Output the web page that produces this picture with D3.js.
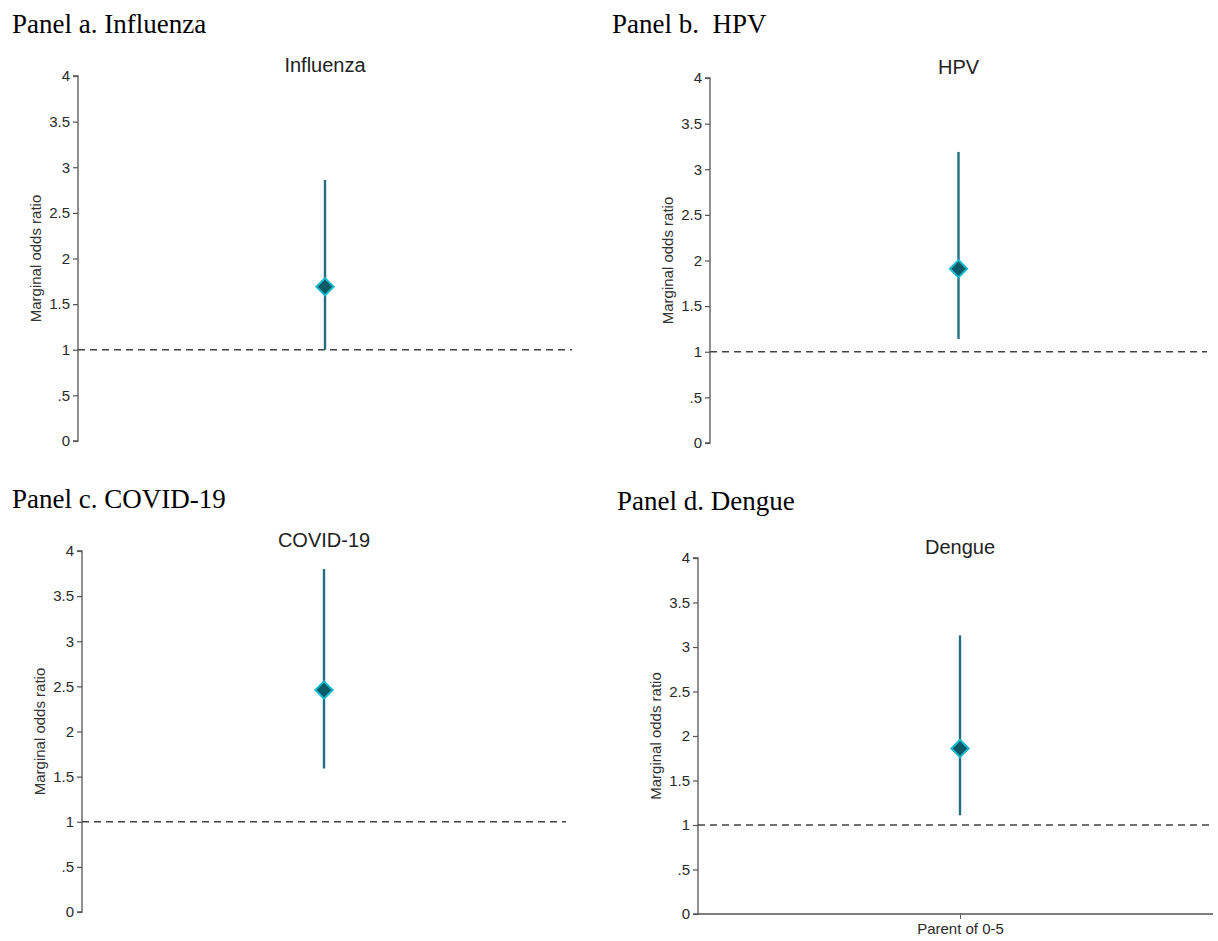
<!DOCTYPE html>
<html><head><meta charset="utf-8">
<script src="https://cdn.jsdelivr.net/npm/d3@7"></script>
<style>body{margin:0;background:#fff}svg{display:block}</style>
</head><body>
<svg id="chart" width="1218" height="941"></svg>
<script>
// ---- data ----
const panelLabels = ["Panel a. Influenza", "Panel b.  HPV", "Panel c. COVID-19", "Panel d. Dengue"];
const titles = ["Influenza", "HPV", "COVID-19", "Dengue"];
const category = ["Parent of 0-5"];
const estimates = [1.69, 1.91, 2.46, 1.86];
const lowerCI = [1.0, 1.14, 1.59, 1.11];
const upperCI = [2.86, 3.19, 3.80, 3.13];
const yTicks = [0, 0.5, 1, 1.5, 2, 2.5, 3, 3.5, 4];
const tickLabels = ["0", ".5", "1", "1.5", "2", "2.5", "3", "3.5", "4"];
const refValue = 1;

// ---- layout (per panel) ----
const layout = [
  {lx:12, ly:33, ax:78,  x1:572,  xr:572,  top:76,  bot:441, showX:false},
  {lx:612,ly:33, ax:710, x1:1207, xr:1207, top:78,  bot:443, showX:false},
  {lx:12, ly:508,ax:82,  x1:566,  xr:566,  top:551, bot:912, showX:false},
  {lx:617,ly:510,ax:698, x1:1213, xr:1222, top:558, bot:914, showX:true}
];

const svg = d3.select("#chart");
const teal = "#1f6f80", diamondFill = "#0b5a68", diamondStroke = "#19b9cc", axisCol = "#555";
const sans = "Liberation Sans, Arial, sans-serif";

layout.forEach((L, i) => {
  const g = svg.append("g");
  g.append("text").attr("x", L.lx).attr("y", L.ly)
    .attr("font-family", "Liberation Serif, Times New Roman, serif").attr("font-size", 27)
    .style("white-space", "pre").attr("xml:space", "preserve")
    .attr("fill", "#000").text(panelLabels[i]);

  const y = d3.scaleLinear().domain([0, 4]).range([L.bot, L.top]);
  const x = d3.scalePoint().domain(category).range([L.ax, L.xr]).padding(0.5);

  // title
  g.append("text").attr("x", x(category[0])).attr("y", L.top - 4)
    .attr("text-anchor", "middle").attr("font-family", sans)
    .attr("font-size", 20).attr("fill", "#222").text(titles[i]);

  // y axis
  const yAxis = d3.axisLeft(y).tickValues(yTicks).tickSize(5).tickPadding(3)
    .tickFormat((d, j) => tickLabels[j]);
  const ya = g.append("g").attr("transform", `translate(${L.ax},0)`).call(yAxis);
  ya.select(".domain").attr("stroke", axisCol).attr("stroke-width", 1.3)
    .attr("d", `M-5,${L.top}H0V${L.bot}H-5`);
  ya.selectAll(".tick line").attr("stroke", axisCol).attr("stroke-width", 1.2);
  ya.selectAll(".tick text").attr("font-family", sans)
    .attr("font-size", 15).attr("fill", "#2a2a2a");

  // y axis title
  g.append("text")
    .attr("transform", `translate(${L.ax - 41},${y(2)}) rotate(-90)`)
    .attr("dominant-baseline", "middle")
    .attr("text-anchor", "middle").attr("font-family", sans)
    .attr("font-size", 15).attr("fill", "#333").text("Marginal odds ratio");

  // x axis (panel d only)
  if (L.showX) {
    const xAxis = d3.axisBottom(x).tickSize(5).tickPadding(4);
    const xa = g.append("g").attr("transform", `translate(0,${L.bot})`).call(xAxis);
    xa.select(".domain").attr("stroke", axisCol).attr("stroke-width", 1.3)
      .attr("d", `M${L.ax},0H${L.x1}`);
    xa.selectAll(".tick line").attr("stroke", axisCol);
    xa.selectAll(".tick text").attr("font-family", sans)
      .attr("font-size", 15).attr("fill", "#2a2a2a");
  }

  // reference line
  g.append("line").attr("x1", L.ax).attr("x2", L.x1)
    .attr("y1", y(refValue)).attr("y2", y(refValue))
    .attr("stroke", "#444").attr("stroke-width", 1.4).attr("stroke-dasharray", "7,5");

  // CI
  const cx = x(category[0]);
  g.append("line").attr("x1", cx).attr("x2", cx)
    .attr("y1", y(lowerCI[i])).attr("y2", y(upperCI[i]))
    .attr("stroke", teal).attr("stroke-width", 2.4);

  // diamond
  g.append("path")
    .attr("d", d3.symbol().type(d3.symbolDiamond2).size(190)())
    .attr("transform", `translate(${cx},${y(estimates[i])})`)
    .attr("fill", diamondFill).attr("stroke", diamondStroke).attr("stroke-width", 2);
});
</script>
</body></html>
